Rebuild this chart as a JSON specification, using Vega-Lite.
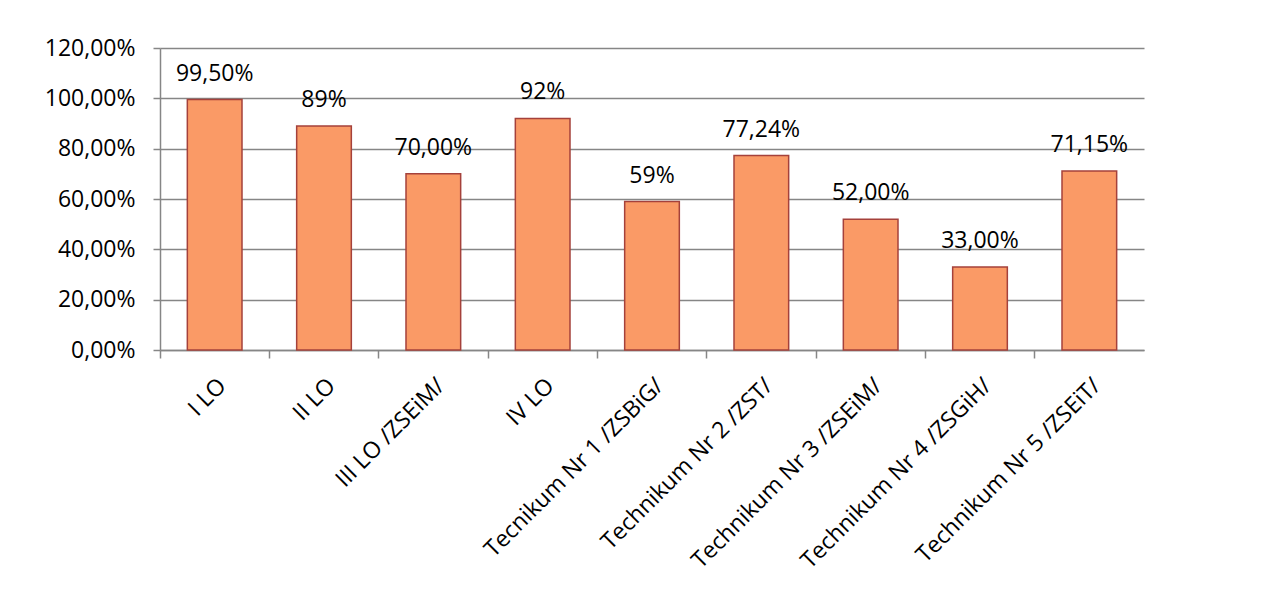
{
  "$schema": "https://vega.github.io/schema/vega-lite/v6.json",
  "autosize": {"type": "none"},
  "padding": {"left": 160, "top": 48, "right": 118, "bottom": 263},
  "width": 984,
  "height": 302,
  "background": "white",
  "config": {
    "view": {"stroke": null},
    "font": "Open Sans"
  },
  "data": {
    "values": [
      {"szkola": "I LO", "wynik": 0.995, "etykieta": "99,50%"},
      {"szkola": "II LO", "wynik": 0.89, "etykieta": "89%"},
      {"szkola": "III LO /ZSEiM/", "wynik": 0.70, "etykieta": "70,00%"},
      {"szkola": "IV LO", "wynik": 0.92, "etykieta": "92%"},
      {"szkola": "Tecnikum Nr 1 /ZSBiG/", "wynik": 0.59, "etykieta": "59%"},
      {"szkola": "Technikum Nr 2 /ZST/", "wynik": 0.7724, "etykieta": "77,24%"},
      {"szkola": "Technikum Nr 3 /ZSEiM/", "wynik": 0.52, "etykieta": "52,00%"},
      {"szkola": "Technikum Nr 4 /ZSGiH/", "wynik": 0.33, "etykieta": "33,00%"},
      {"szkola": "Technikum Nr 5 /ZSEiT/", "wynik": 0.7115, "etykieta": "71,15%"}
    ]
  },
  "encoding": {
    "x": {
      "field": "szkola",
      "type": "nominal",
      "sort": null,
      "scale": {"paddingInner": 0.5, "paddingOuter": 0.25},
      "axis": {
        "title": null,
        "labelAngle": -45,
        "labelFontSize": 23,
        "labelColor": "#000000",
        "labelPadding": 16,
        "labelLimit": 400,
        "domainColor": "#868686",
        "domainWidth": 1.5,
        "tickColor": "#868686",
        "tickWidth": 1.5,
        "tickSize": 8,
        "bandPosition": -0.5
      }
    }
  },
  "layer": [
    {
      "mark": {"type": "bar", "fill": "#FA9A66", "stroke": "#A5413B", "strokeWidth": 1.5},
      "encoding": {
        "y": {
          "field": "wynik",
          "type": "quantitative",
          "scale": {"domain": [0, 1.2], "nice": false},
          "axis": {
            "title": null,
            "values": [0, 0.2, 0.4, 0.6, 0.8, 1.0, 1.2],
            "labelExpr": "replace(format(datum.value, '.2%'), '.', ',')",
            "labelFontSize": 23,
            "labelColor": "#000000",
            "labelPadding": 18,
            "grid": true,
            "gridColor": "#868686",
            "gridWidth": 1.5,
            "domainColor": "#868686",
            "domainWidth": 1.5,
            "tickColor": "#868686",
            "tickWidth": 1.5,
            "tickSize": 7
          }
        }
      }
    },
    {
      "mark": {"type": "text", "baseline": "alphabetic", "dy": -19, "fontSize": 23, "color": "#000000"},
      "encoding": {
        "y": {"field": "wynik", "type": "quantitative"},
        "text": {"field": "etykieta"}
      }
    }
  ]
}
